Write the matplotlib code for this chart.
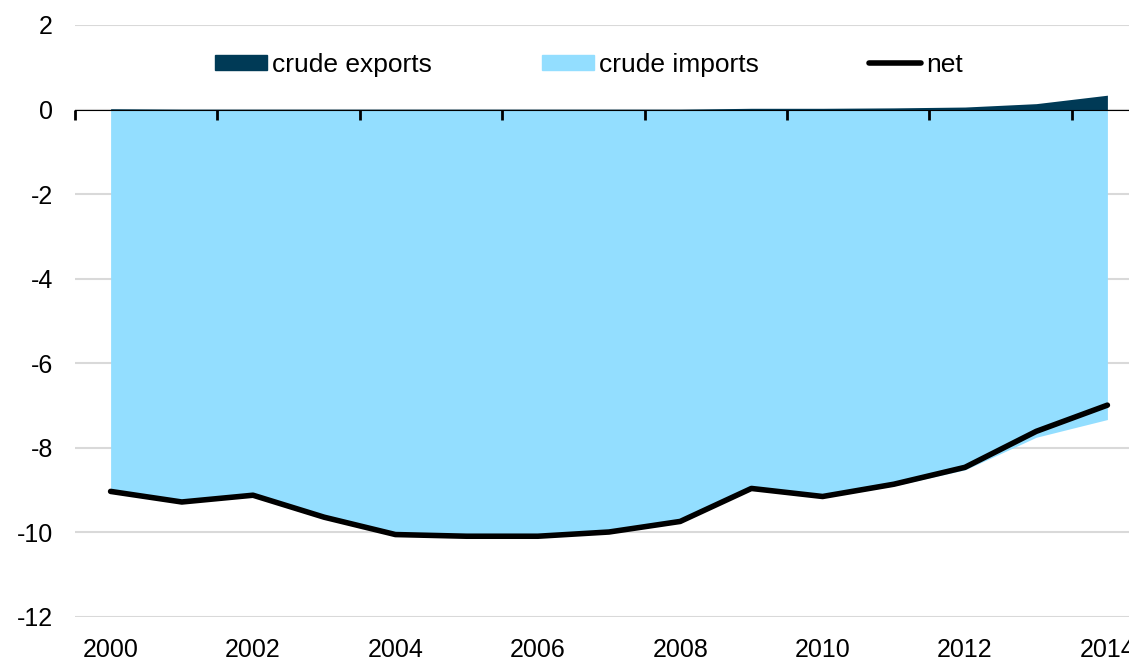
import numpy as np
import matplotlib.pyplot as plt
from matplotlib.patches import Patch
from matplotlib.lines import Line2D
from matplotlib.ticker import NullFormatter

plt.rcParams['font.family'] = ['Liberation Sans', 'DejaVu Sans']
plt.rcParams['axes.unicode_minus'] = False

years = np.arange(2000, 2015)
# net crude trade
net = [-9.03, -9.28, -9.12, -9.64, -10.05, -10.09, -10.09, -9.99,
       -9.74, -8.96, -9.15, -8.86, -8.46, -7.61, -6.99]
exports = [0.02, 0.01, 0.01, 0.01, 0.01, 0.01, 0.01, 0.01,
           0.01, 0.03, 0.03, 0.04, 0.06, 0.14, 0.34]
imports = [n - e for n, e in zip(net, exports)]

c_exp = '#003A56'
c_imp = '#93DEFF'

fig = plt.figure(figsize=(11.29, 6.6), dpi=100)
ax = fig.add_axes([75 / 1129, 1 - 617 / 660, 1068 / 1129, 592 / 660])

ax.fill_between(years, 0, imports, color=c_imp, lw=0, zorder=2)
ax.fill_between(years, 0, exports, color=c_exp, lw=0, zorder=2)
ax.plot(years, net, color='black', lw=4, solid_capstyle='round',
        solid_joinstyle='round', zorder=4)

ax.set_xlim(1999.5, 2014.5)
ax.set_ylim(-12, 2)
ax.set_yticks(np.arange(-12, 3, 2))
ax.set_xticks(np.arange(2000, 2015, 2))
ax.tick_params(axis='both', length=0, labelsize=18)
ax.tick_params(axis='x', pad=15)
ax.tick_params(axis='y', pad=16)
ax.grid(axis='y', color='#D9D9D9', lw=1.5, zorder=0)
for s in ax.spines.values():
    s.set_visible(False)

# zero line with tick marks between categories
sec = ax.secondary_xaxis(12 / 14)
sec.set_xticks(np.arange(1999.5, 2014.5, 2))
sec.xaxis.set_major_formatter(NullFormatter())
sec.xaxis.set_ticks_position('bottom')
sec.tick_params(direction='out', length=7, width=2, color='black')
sec.spines['bottom'].set_linewidth(2)
sec.spines['bottom'].set_color('black')
sec.set_zorder(5)

handles = [Patch(color=c_exp, label='crude exports'),
           Patch(color=c_imp, label='crude imports'),
           Line2D([], [], color='black', lw=4, solid_capstyle='round', label='net')]
ax.legend(handles=handles, ncol=3, loc='center left',
          bbox_to_anchor=((215 - 75) / 1068, (617 - 65) / 592),
          frameon=False, fontsize=19, handlelength=1.97, handleheight=0.53,
          handletextpad=0.2, columnspacing=4.17, borderpad=0, borderaxespad=0)

fig.savefig('out.png', dpi=100)
